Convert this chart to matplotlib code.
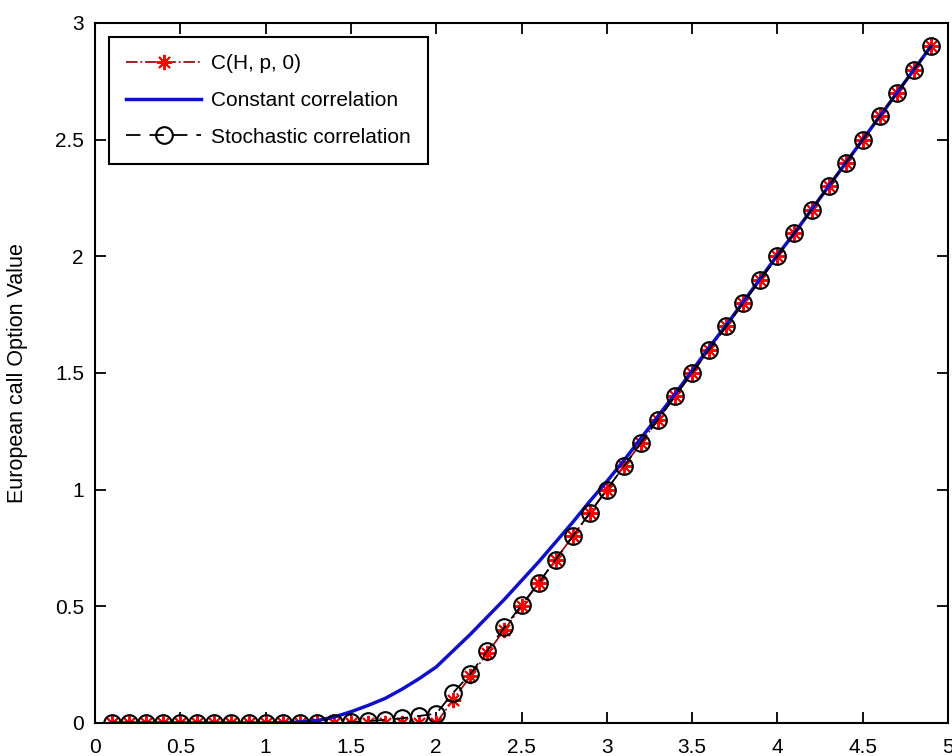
import numpy as np
import matplotlib.pyplot as plt

plt.rcParams['font.family'] = ['Liberation Sans', 'DejaVu Sans']

# asset price grid
S = [0.1, 0.2, 0.3, 0.4, 0.5, 0.6, 0.7, 0.8, 0.9, 1.0,
     1.1, 1.2, 1.3, 1.4, 1.5, 1.6, 1.7, 1.8, 1.9, 2.0,
     2.1, 2.2, 2.3, 2.4, 2.5, 2.6, 2.7, 2.8, 2.9, 3.0,
     3.1, 3.2, 3.3, 3.4, 3.5, 3.6, 3.7, 3.8, 3.9, 4.0,
     4.1, 4.2, 4.3, 4.4, 4.5, 4.6, 4.7, 4.8, 4.9]

# payoff C(H, p, 0)
payoff = [0, 0, 0, 0, 0, 0, 0, 0, 0, 0,
          0, 0, 0, 0, 0, 0, 0, 0, 0, 0,
          0.1, 0.2, 0.3, 0.4, 0.5, 0.6, 0.7, 0.8, 0.9, 1.0,
          1.1, 1.2, 1.3, 1.4, 1.5, 1.6, 1.7, 1.8, 1.9, 2.0,
          2.1, 2.2, 2.3, 2.4, 2.5, 2.6, 2.7, 2.8, 2.9]

# constant correlation price
const_corr = [0, 0, 0, 0, 0, 0, 0, 0, 0, 0,
              0.001, 0.004, 0.01, 0.025, 0.048, 0.075, 0.105, 0.145, 0.19, 0.24,
              0.31, 0.38, 0.455, 0.53, 0.61, 0.69, 0.775, 0.86, 0.95, 1.035,
              1.125, 1.22, 1.315, 1.41, 1.51, 1.61, 1.705, 1.805, 1.905, 2.005,
              2.1, 2.2, 2.3, 2.4, 2.5, 2.6, 2.7, 2.8, 2.9]

# stochastic correlation price
stoch_corr = [0, 0, 0, 0, 0, 0, 0, 0, 0, 0,
              0, 0, 0, 0, 0.004, 0.008, 0.013, 0.02, 0.03, 0.04,
              0.13, 0.21, 0.31, 0.41, 0.505, 0.6, 0.7, 0.8, 0.9, 1.0,
              1.1, 1.2, 1.3, 1.4, 1.5, 1.6, 1.7, 1.8, 1.9, 2.0,
              2.1, 2.2, 2.3, 2.4, 2.5, 2.6, 2.7, 2.8, 2.9]

fig = plt.figure(figsize=(9.53, 7.56), dpi=100)
ax = fig.add_axes([0.0997, 0.0437, 0.8951, 0.9259])

# 8-armed asterisk like the matlab '*' marker
ax.plot(S, payoff, '-.', color='#9b1010', lw=1.3, marker=(8, 2, 0), ms=11,
        mec='red', mew=1.4, label='C(H, p, 0)')
ax.plot(S, const_corr, '-', color='#1010c8', lw=2.5, label='Constant correlation')
ax.plot(S, stoch_corr, '--', color='black', lw=1.3, dashes=(8, 5), marker='o', ms=12,
        mec='black', mfc='none', mew=1.5, label='Stochastic correlation')

ax.set_xlim(0, 5)
ax.set_ylim(0, 3)
ax.set_xticks(np.arange(0, 5.01, 0.5))
ax.set_yticks(np.arange(0, 3.01, 0.5))
ax.set_xticklabels(['0', '0.5', '1', '1.5', '2', '2.5', '3', '3.5', '4', '4.5', '5'])
ax.set_yticklabels(['0', '0.5', '1', '1.5', '2', '2.5', '3'])
ax.tick_params(direction='in', length=8, width=1.3, top=True, right=True,
               labelsize=15)
ax.tick_params(axis='x', pad=11)
ax.tick_params(axis='y', pad=8)
for sp in ax.spines.values():
    sp.set_linewidth(1.5)

ax.set_ylabel('European call Option Value', fontsize=15.5)
ax.yaxis.set_label_coords(-0.078, 0.5)

leg = ax.legend(loc='upper left', fontsize=15,
                handlelength=3.6, labelspacing=0.85, borderpad=0.85,
                fancybox=False, edgecolor='black', framealpha=1,
                borderaxespad=0.65, handletextpad=0.45)
leg.get_frame().set_linewidth(1.5)

fig.savefig('out.png', dpi=100)
